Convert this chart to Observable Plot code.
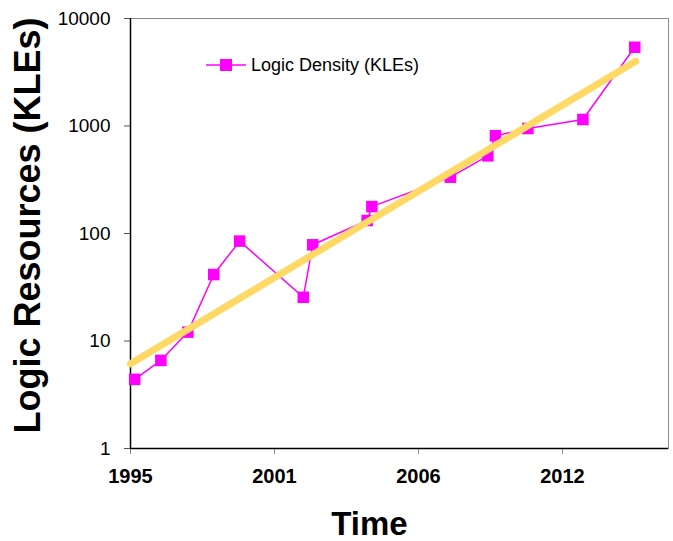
<!DOCTYPE html>
<html><head><meta charset="utf-8">
<script src="https://cdn.jsdelivr.net/npm/d3@7"></script>
<script src="https://cdn.jsdelivr.net/npm/@observablehq/plot@0.6"></script>
<style>
html,body{margin:0;padding:0;background:#fff;}
#wrap{position:relative;width:673px;height:541px;font-family:Arial,"Liberation Sans",sans-serif;}
#legend{position:absolute;left:206px;top:55px;display:flex;align-items:center;font-size:18px;color:#000;line-height:20px;}
#legend span{margin-left:5px;}
</style></head><body>
<div id="wrap"><div id="legend"><svg width="40" height="14"><line x1="0" x2="40" y1="7" y2="7" stroke="#FF00FF" stroke-width="1.5"/><rect x="14" y="1" width="12" height="12" fill="#FF00FF"/></svg><span>Logic Density (KLEs)</span></div></div>
<script>
const years = [1995.16, 1996.16, 1997.19, 1998.18, 1999.17, 2001.6, 2001.96, 2004.04, 2004.22, 2007.22, 2008.65, 2008.94, 2010.18, 2012.28, 2014.26];
const kles = [4.4, 6.6, 12.1, 41.5, 85, 25.5, 78.5, 132, 178, 334, 528, 811, 948, 1150, 5400];
const trendYears = [1995, 2014.3];
const trendKles = [6.14, 4010];
const yTicks = [1, 10, 100, 1000, 10000];
const xTickPositions = [1995, 2000.5, 2006, 2011.5];
const xTickLabels = ["1995", "2001", "2006", "2012"];
const seriesName = "Logic Density (KLEs)";
const yTitle = "Logic Resources (KLEs)";
const xTitle = "Time";

const data = years.map((y, i) => ({year: y, kles: kles[i]}));
const trend = trendYears.map((y, i) => ({year: y, kles: trendKles[i]}));

const font = 'Arial, "Liberation Sans", sans-serif';
const chart = Plot.plot({
  width: 673, height: 541,
  marginLeft: 130, marginRight: 5, marginTop: 18, marginBottom: 93,
  style: {fontFamily: font, background: "white", color: "black"},
  x: {domain: [1995, 2015.55]},
  y: {type: "log", domain: [1, 10000]},
  marks: [
    Plot.frame({stroke: "#8c8c8c"}),
    Plot.axisY({ticks: yTicks, tickFormat: d => String(d), fontSize: 19, tickSize: 6, tickPadding: 14, label: null, stroke: "#555", fill: "black"}),
    Plot.axisX({ticks: xTickPositions, tickFormat: d => xTickLabels[xTickPositions.indexOf(d)], fontSize: 20, fontWeight: "bold", tickSize: 6, tickPadding: 14, label: null, stroke: "#888", fill: "black"}),
    Plot.ruleX([1995], {stroke: "black", strokeWidth: 1.5}),
    Plot.ruleY([1], {stroke: "black", strokeWidth: 1.5}),
    Plot.line(data, {x: "year", y: "kles", stroke: "#FF00FF", strokeWidth: 1.5}),
    Plot.dot(data, {x: "year", y: "kles", symbol: "square", r: 6.5, fill: "#FF00FF"}),
    Plot.line(trend, {x: "year", y: "kles", stroke: "#FFD966", strokeWidth: 7, strokeLinecap: "round"}),
    Plot.text([yTitle], {text: d => d, frameAnchor: "left", textAnchor: "middle", lineAnchor: "middle", rotate: -90, dx: -102, dy: -8, fontSize: 36, fontWeight: "bold", fill: "black"}),
    Plot.text([xTitle], {text: d => d, frameAnchor: "bottom", textAnchor: "middle", lineAnchor: "middle", dx: -30, dy: 76, fontSize: 33, fontWeight: "bold", fill: "black"})
  ]
});
document.getElementById("wrap").prepend(chart);
chart.style.display = "block";
</script>
</body></html>
